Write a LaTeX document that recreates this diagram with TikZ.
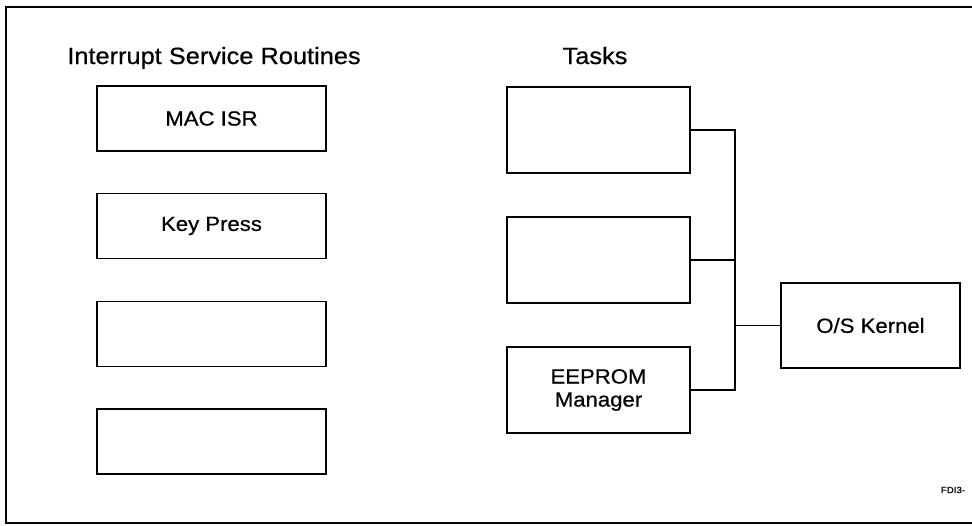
\documentclass[tikz,border=0pt]{standalone}
\usepackage{fontspec}
\setmainfont{Liberation Sans}[FakeStretch=1.08, FakeBold=0.6]
\begin{document}
\begin{tikzpicture}[x=1pt,y=-1pt,
  line width=1.6pt,
  routine/.style={draw, rectangle, minimum width=229pt, minimum height=65pt,
    inner sep=0pt, font=\fontsize{20.5}{23}\selectfont, align=center},
  taskbox/.style={draw, rectangle, minimum width=183pt, minimum height=86pt,
    inner sep=0pt, font=\fontsize{20.5}{23}\selectfont, align=center},
  heading/.style={anchor=base, font=\fontsize{23.5}{27}\selectfont},
  link/.style={line width=1.6pt}]
\useasboundingbox (0,0) rectangle (972,525);
% frame (right edge lies beyond the page)
\draw[line width=1.8pt] (990,7) -- (6,7) -- (6,523) -- (990,523);

% headings
\node[heading] (hisr) at (214,64) {Interrupt Service Routines};
\node[heading] (htask) at (595,64) {Tasks};

% interrupt service routines
\node[routine] (r1) at (211.5,118.5) {MAC ISR};
\node[routine] (r2) at (211.5,226) {Key Press};
\node[routine] (r3) at (211.5,334) {};
\node[routine] (r4) at (211.5,441.5) {};

% tasks
\node[taskbox] (t1) at (598.5,130) {};
\node[taskbox] (t2) at (598.5,260) {};
\node[taskbox] (t3) at (598.5,390) {EEPROM\\Manager};

% kernel
\node[draw, rectangle, minimum width=179pt, minimum height=85pt, inner sep=0pt,
  font=\fontsize{20.5}{23}\selectfont] (k) at (870.5,325.5) {O/S Kernel};

% bus joining the tasks to the kernel
\coordinate (bus) at (735,0);
\draw[link] (t1.east) -- (t1.east -| bus) -- (t3.east -| bus) -- (t3.east);
\draw[link] (t2.east) -- (t2.east -| bus);
\draw[link] (k.west) -- (k.west -| bus);

% drawing number
\node[font=\fontsize{9}{10}\selectfont] (fig) at (953,490) {FDI3-};
\end{tikzpicture}
\end{document}
